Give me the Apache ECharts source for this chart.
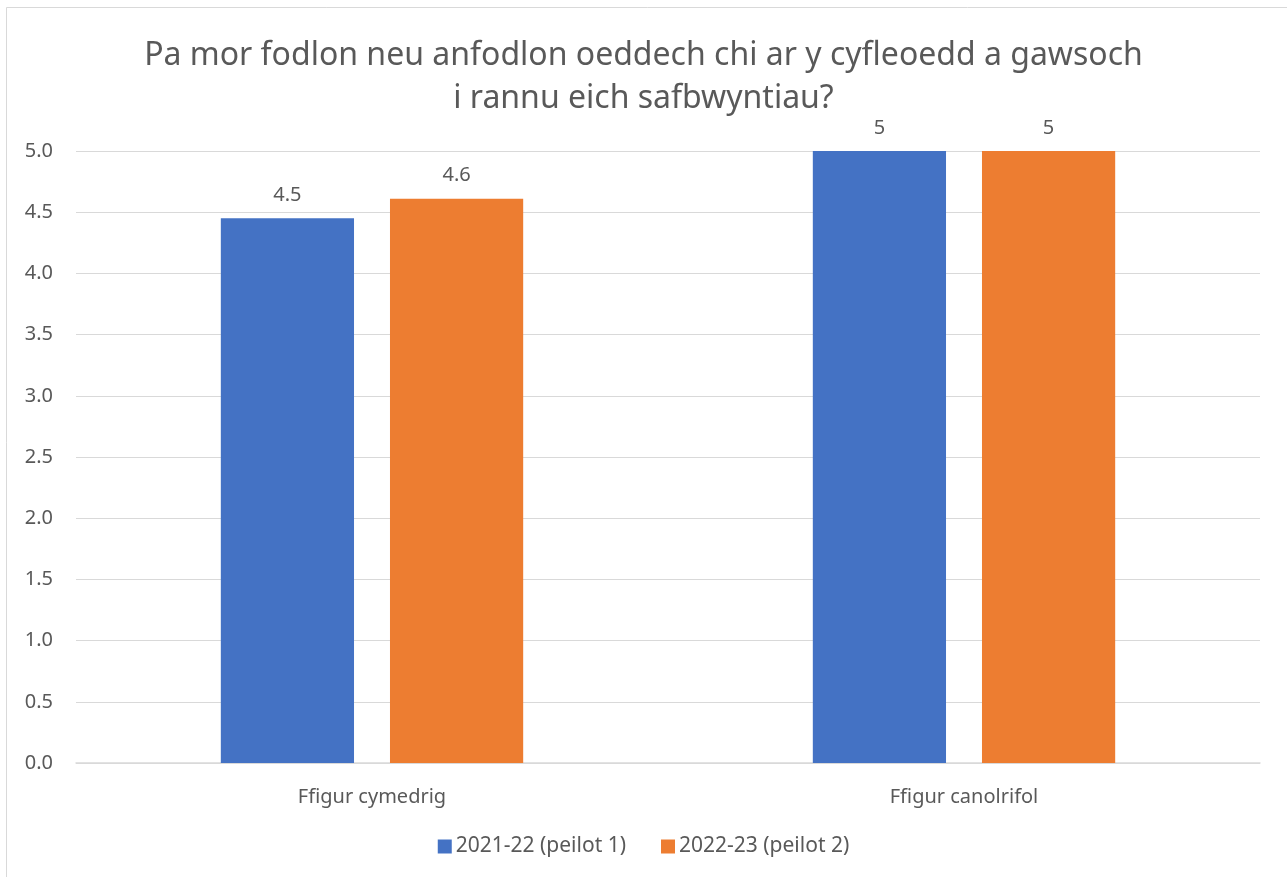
<!DOCTYPE html>
<html><head><meta charset="utf-8">
<script src="https://cdn.jsdelivr.net/npm/echarts@6/dist/echarts.min.js"></script>
<style>html,body{margin:0;padding:0;background:#fff}#c{width:1287px;height:877px}</style>
</head><body><div id="c"></div>
<script>
const titleText = "Pa mor fodlon neu anfodlon oeddech chi ar y cyfleoedd a gawsoch\ni rannu eich safbwyntiau?";
const categories = ["Ffigur cymedrig", "Ffigur canolrifol"];
const seriesNames = ["2021-22 (peilot 1)", "2022-23 (peilot 2)"];
const values2122 = [4.45, 5];
const values2223 = [4.61, 5];
const labels2122 = ["4.5", "5"];
const labels2223 = ["4.6", "5"];
const colors = ["#4472C4", "#ED7D31"];
const FONT = "Noto Sans";
const TXT = "#595959";

const chart = echarts.init(document.getElementById('c'), null, {renderer: 'canvas'});
function mk(name, vals, labs, color) {
  return {
    name, type: 'bar', data: vals, barWidth: '22.5%', barGap: '27%',
    itemStyle: {color},
    label: {show: true, position: 'top', distance: 13, color: TXT, fontFamily: FONT, fontSize: 20,
      formatter: p => labs[p.dataIndex]}
  };
}
chart.setOption({
  animation: false,
  backgroundColor: '#fff',
  graphic: [{type: 'rect', shape: {x: 6.5, y: 7.5, width: 1400, height: 1000},
    style: {fill: 'none', stroke: '#d9d9d9', lineWidth: 1}, silent: true, z: -1}],
  title: {text: titleText, left: 'center', top: 29,
    textStyle: {fontFamily: FONT, fontSize: 32, fontWeight: 'normal', color: TXT, lineHeight: 43}},
  legend: {bottom: 15, left: 'center', itemWidth: 14, itemHeight: 14, itemGap: 35,
    icon: 'rect', textStyle: {fontFamily: FONT, fontSize: 21, color: TXT, padding: [0, 0, 0, -1]}},
  grid: {left: 76, right: 27, top: 151, bottom: 114, containLabel: false},
  xAxis: {type: 'category', data: categories,
    axisLine: {lineStyle: {color: '#d9d9d9', width: 1.5}}, axisTick: {show: false},
    axisLabel: {color: TXT, fontFamily: FONT, fontSize: 20, margin: 24}},
  yAxis: {type: 'value', min: 0, max: 5, interval: 0.5,
    axisLine: {show: false}, axisTick: {show: false},
    splitLine: {lineStyle: {color: '#d9d9d9', width: 1}},
    axisLabel: {color: TXT, fontFamily: FONT, fontSize: 20, margin: 23, formatter: v => v.toFixed(1)}},
  series: [mk(seriesNames[0], values2122, labels2122, colors[0]), mk(seriesNames[1], values2223, labels2223, colors[1])]
});
</script></body></html>
